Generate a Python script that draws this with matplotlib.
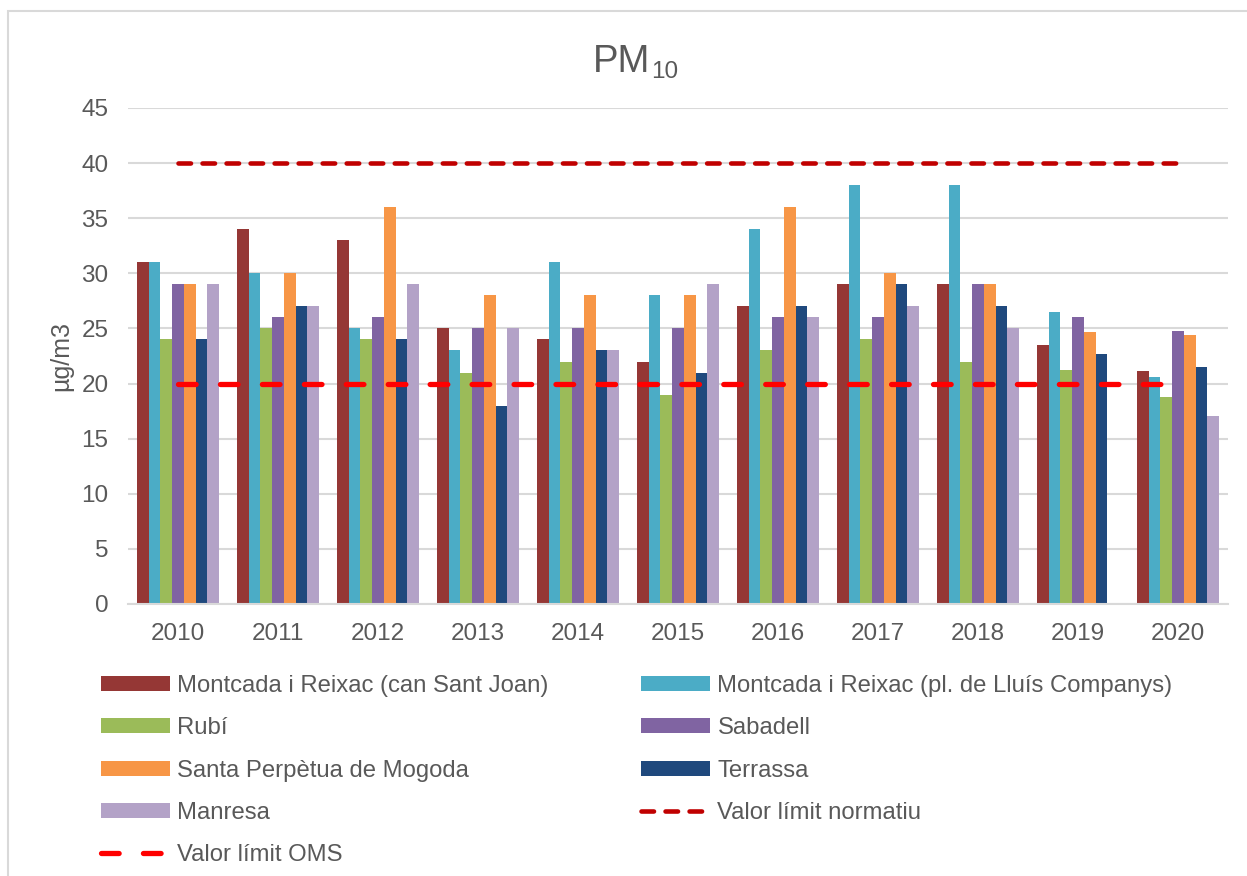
import numpy as np
import matplotlib
matplotlib.use("Agg")
import matplotlib.pyplot as plt
from matplotlib.patches import Rectangle

plt.rcParams['font.family'] = ['Liberation Sans', 'DejaVu Sans']
plt.rcParams['lines.scale_dashes'] = False

years = ['2010', '2011', '2012', '2013', '2014', '2015', '2016', '2017', '2018', '2019', '2020']

# PM10 annual means per station (ug/m3)
can_sant_joan = [31, 34, 33, 25, 24, 22, 27, 29, 29, 23.5, 21.1]
lluis_companys = [31, 30, 25, 23, 31, 28, 34, 38, 38, 26.5, 20.6]
rubi = [24, 25, 24, 21, 22, 19, 23, 24, 22, 21.2, 18.8]
sabadell = [29, 26, 26, 25, 25, 25, 26, 26, 29, 26.0, 24.8]
santa_perpetua = [29, 30, 36, 28, 28, 28, 36, 30, 29, 24.7, 24.4]
terrassa = [24, 27, 24, 18, 23, 21, 27, 29, 27, 22.7, 21.5]
manresa = [29, 27, 29, 25, 23, 29, 26, 27, 25, np.nan, 17.1]

limit_normatiu = [40] * len(years)
limit_oms = [20] * len(years)

series = [
    ('Montcada i Reixac (can Sant Joan)', can_sant_joan, '#953735'),
    ('Montcada i Reixac (pl. de Lluís Companys)', lluis_companys, '#4BACC6'),
    ('Rubí', rubi, '#9BBB59'),
    ('Sabadell', sabadell, '#8064A2'),
    ('Santa Perpètua de Mogoda', santa_perpetua, '#F79646'),
    ('Terrassa', terrassa, '#1F497D'),
    ('Manresa', manresa, '#B3A2C7'),
]

txt = '#595959'
grid = '#D9D9D9'

fig = plt.figure(figsize=(12.47, 8.76), dpi=100)
ax = fig.add_axes([128/1247, 1-604/876, 1100/1247, 496/876])

x = np.arange(len(years))
w = 0.117
handles = []
for i, (name, vals, col) in enumerate(series):
    b = ax.bar(x + (i - 3) * w, vals, w, color=col, label=name, zorder=2)
    handles.append(b)

ln1, = ax.plot(x, limit_normatiu, color='#C00000', lw=3.3, dashes=(9, 8.3),
               dash_capstyle='round', label='Valor límit normatiu', zorder=3)
ln2, = ax.plot(x, limit_oms, color='#FF0000', lw=3.8, dashes=(12.7, 17.5),
               dash_capstyle='round', label='Valor límit OMS', zorder=3)
handles += [ln1, ln2]

ax.set_xlim(-0.5, len(years) - 0.5)
ax.set_ylim(0, 45)
ax.set_yticks(range(0, 46, 5))
ax.set_xticks(x)
ax.set_xticklabels(years)
ax.yaxis.grid(True, color=grid, lw=1.5, zorder=0)
ax.set_axisbelow(True)
for s in ['top', 'right', 'left']:
    ax.spines[s].set_visible(False)
ax.spines['bottom'].set_color(grid)
ax.spines['bottom'].set_linewidth(1.5)
ax.tick_params(length=0, labelsize=17.5, colors=txt)
ax.tick_params(axis='x', pad=14)
ax.tick_params(axis='y', pad=14)
ax.set_ylabel('µg/m3', fontsize=18, color=txt, labelpad=6)

# title: PM with subscript 10
fig.text(593/1247, 1-62/876, 'PM', ha='left', va='center', fontsize=27.5, color=txt)
fig.text(651/1247, 1-72/876, '10', ha='left', va='center', fontsize=17.5, color=txt)

order = [0, 2, 4, 6, 8, 1, 3, 5, 7]
leg = fig.legend([handles[k] for k in order], [handles[k].get_label() for k in order],
                 ncol=2, loc='upper left', bbox_to_anchor=(101/1247, 1-675/876),
                 frameon=False, fontsize=17.2, labelcolor=txt, borderpad=0,
                 borderaxespad=0, handlelength=2.9, handleheight=0.6,
                 handletextpad=0.3, labelspacing=0.85, columnspacing=3.86)

fig.patches.append(Rectangle((8/1247, -0.1), 1.2, 1 - 11/876 + 0.1, transform=fig.transFigure,
                             fill=False, edgecolor=grid, lw=1.5))

fig.savefig('out.png', dpi=100)
